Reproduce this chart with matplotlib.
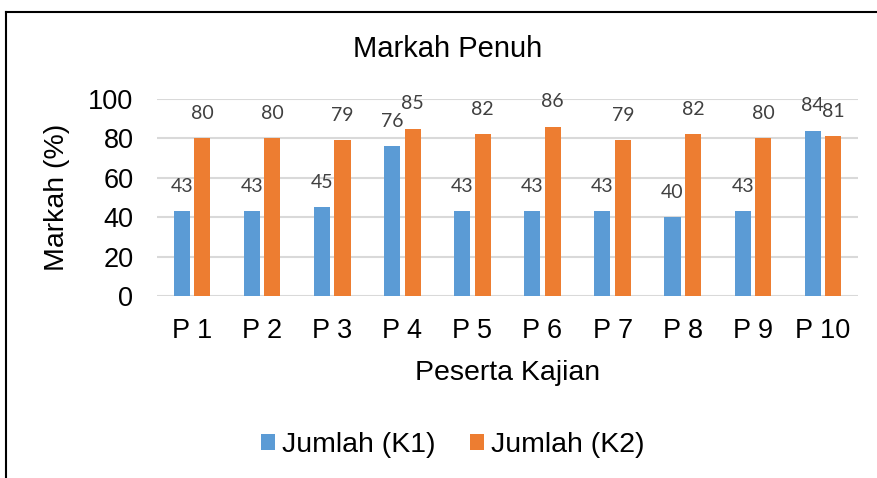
import matplotlib

matplotlib.use("Agg")
import matplotlib.pyplot as plt
from matplotlib.lines import Line2D
import numpy as np

categories = ["P 1", "P 2", "P 3", "P 4", "P 5", "P 6", "P 7", "P 8", "P 9", "P 10"]
jumlah_k1 = [43, 43, 45, 76, 43, 43, 43, 40, 43, 84]
jumlah_k2 = [80, 80, 79, 85, 82, 86, 79, 82, 80, 81]
series_names = ["Jumlah (K1)", "Jumlah (K2)"]
yticks = [0, 20, 40, 60, 80, 100]

BLUE = "#5b9bd5"
ORANGE = "#ed7d31"
ARIAL = "Liberation Sans"

fig = plt.figure(figsize=(8.77, 4.78), dpi=100)
ax = fig.add_axes([157 / 877, 1 - 296 / 478, 701 / 877, 197 / 478])

x = np.arange(len(categories))
w = 0.23
off = 0.146
b1 = ax.bar(x - off, jumlah_k1, w, color=BLUE, label=series_names[0], zorder=3)
b2 = ax.bar(x + off, jumlah_k2, w, color=ORANGE, label=series_names[1], zorder=3)

for bars, vals in [(b1, jumlah_k1), (b2, jumlah_k2)]:
    for rect, v in zip(bars, vals):
        ax.annotate(str(v), (rect.get_x() + rect.get_width() / 2, v),
                    xytext=(0, 18), textcoords="offset points",
                    ha="center", va="center", fontsize=14,
                    family="Lato", color="#404040")

ax.set_xlim(-0.5, len(categories) - 0.5)
ax.set_ylim(0, 100)
ax.set_yticks(yticks)
ax.set_xticks(x)
ax.set_xticklabels(categories)
ax.tick_params(length=0, labelsize=19.5)
ax.tick_params(axis="y", pad=17)
ax.tick_params(axis="x", pad=16)
for lab in ax.get_xticklabels() + ax.get_yticklabels():
    lab.set_family(ARIAL)
ax.grid(axis="y", color="#d9d9d9", lw=1.5, zorder=0)
for s in ax.spines.values():
    s.set_visible(False)

ax.set_ylabel("Markah (%)", fontsize=20.5, family=ARIAL)
ax.yaxis.set_label_coords(-0.143, 0.5)
ax.yaxis.label.set_va("center")
ax.set_xlabel("Peserta Kajian", fontsize=20.5, family=ARIAL)
ax.xaxis.set_label_coords(0.5, -0.39)
ax.xaxis.label.set_va("center")

fig.text(448 / 877, 1 - 49 / 478, "Markah Penuh", ha="center", va="center",
         fontsize=21, family=ARIAL)

leg = fig.legend(handles=[b1, b2], labels=series_names, loc="center",
                 bbox_to_anchor=(453 / 877, 1 - 445 / 478), ncol=2, frameon=False,
                 prop={"family": ARIAL, "size": 20.5}, handlelength=0.5,
                 handleheight=0.5, handletextpad=0.25, columnspacing=1.2)

fig.add_artist(Line2D([6 / 877, 1], [1 - 12 / 478, 1 - 12 / 478], color="black", lw=1.5))
fig.add_artist(Line2D([6 / 877, 6 / 877], [0, 1 - 12 / 478], color="black", lw=1.5))

fig.savefig("out.png", dpi=100)
